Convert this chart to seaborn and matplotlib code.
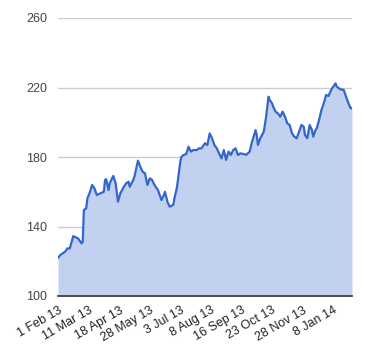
import matplotlib
matplotlib.use("Agg")
import matplotlib.pyplot as plt
import seaborn as sns
import pandas as pd

# trading-day index (0 = 1 Feb 13) and closing value
day = [0, 2, 6, 8, 10, 13, 15, 17, 20, 21, 22, 24, 25, 27, 29, 31, 33, 36, 39, 40,
       41, 43, 44, 47, 49, 51, 53, 56, 58, 60, 61, 64, 65, 68, 70, 72, 74, 76, 78, 80,
       82, 85, 88, 90, 91, 93, 95, 98, 99, 101, 102, 104, 105, 107, 109, 111, 113, 115, 118, 120,
       122, 125, 127, 129, 131, 133, 135, 137, 139, 141, 143, 145, 147, 149, 151, 153, 155, 158, 160, 163,
       165, 166, 168, 169, 170, 172, 175, 177, 179, 180, 182, 183, 185, 187, 189, 191, 193, 195, 197, 199,
       201, 203, 205, 207, 209, 210, 212, 214, 216, 217, 219, 220, 222, 224, 226, 228, 230, 231, 233, 236,
       237, 240, 243, 245, 247, 249, 250]
price = [121.9, 123.6, 125.5, 127.4, 127.4, 134.5, 133.8, 133.2, 130.3, 131.0, 149.5, 150.5, 156.2, 159.5, 163.9, 162.0, 158.1, 159.1, 160.0, 166.8,
         167.2, 161.0, 164.9, 169.1, 164.9, 154.3, 159.1, 162.9, 164.9, 165.8, 162.9, 166.8, 168.7, 177.9, 174.4, 171.5, 170.6, 163.9, 167.7, 166.8,
         163.9, 161.0, 155.2, 158.1, 160.0, 154.3, 151.4, 152.4, 156.2, 162.0, 166.8, 177.3, 180.2, 181.2, 181.7, 185.9, 183.1, 184.0, 184.0, 185.0,
         185.0, 187.9, 186.9, 193.6, 190.8, 186.9, 185.0, 182.1, 179.2, 184.0, 178.3, 183.1, 181.2, 184.0, 185.0, 181.2, 182.1, 181.7, 181.2, 183.1,
         188.8, 190.8, 195.5, 192.7, 186.9, 190.8, 194.6, 203.2, 214.7, 212.8, 210.9, 209.0, 206.1, 205.1, 203.2, 206.1, 203.2, 199.4, 198.4, 193.6,
         191.7, 190.8, 194.6, 198.4, 197.4, 192.7, 190.8, 198.4, 195.5, 191.7, 195.5, 196.5, 201.3, 207.0, 210.9, 215.7, 215.1, 216.7, 219.5, 222.4,
         220.5, 219.0, 218.6, 214.7, 210.9, 208.0, 208.0]

tick_labels = ["1 Feb 13", "11 Mar 13", "18 Apr 13", "28 May 13", "3 Jul 13",
               "8 Aug 13", "16 Sep 13", "23 Oct 13", "28 Nov 13", "8 Jan 14"]
y_ticks = [100, 140, 180, 220, 260]

df = pd.DataFrame({"day": day, "price": price})

sns.set_theme(style="white")
plt.rcParams["font.family"] = ["Liberation Sans", "DejaVu Sans"]

fig = plt.figure(figsize=(3.8, 3.6), dpi=100)
ax = fig.add_axes([58 / 380, 1 - 296 / 360, 294 / 380, 278 / 360])

line_color = "#3366cc"
fill_color = "#c2d1f0"

ax.fill_between(df["day"], y_ticks[0], df["price"], color=fill_color, linewidth=0, zorder=2)
sns.lineplot(data=df, x="day", y="price", ax=ax, color=line_color, linewidth=1.6, zorder=3)

ax.set_xlim(0, 250)
ax.set_ylim(y_ticks[0], y_ticks[-1])
ax.set_yticks(y_ticks)
ax.set_yticklabels([str(v) for v in y_ticks])
ax.set_xticks([26 * i for i in range(len(tick_labels))])
ax.set_xticklabels(tick_labels, rotation=30, ha="right", rotation_mode="anchor")

ax.set_xlabel("")
ax.set_ylabel("")
ax.grid(axis="y", color="#cccccc", linewidth=1.0, zorder=1)
ax.set_axisbelow(True)
for s in ["top", "right", "left"]:
    ax.spines[s].set_visible(False)
ax.spines["bottom"].set_color("#333333")
ax.spines["bottom"].set_linewidth(1.2)
ax.spines["bottom"].set_zorder(4)

ax.tick_params(axis="y", length=0, pad=8, labelsize=9, labelcolor="#444444")
ax.tick_params(axis="x", length=0, pad=6, labelsize=9, labelcolor="#222222")

fig.savefig("out.png", dpi=100, facecolor="white")
